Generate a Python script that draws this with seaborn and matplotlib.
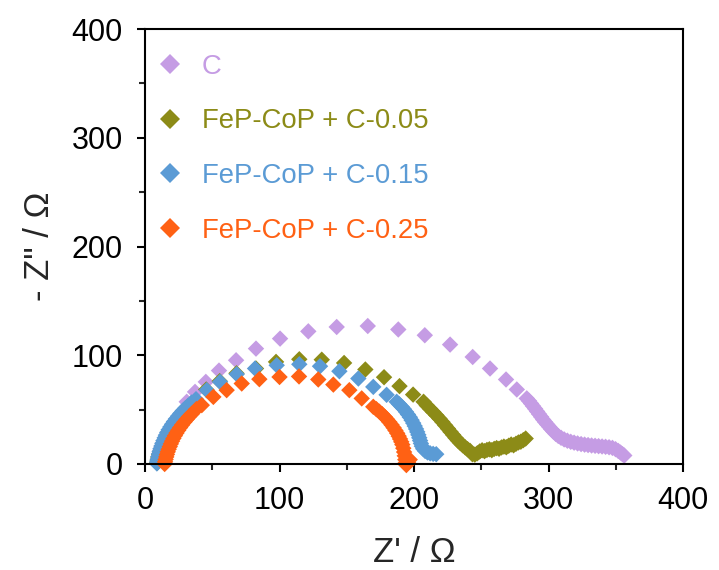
import numpy as np
import pandas as pd
import matplotlib
matplotlib.use("Agg")
import matplotlib.pyplot as plt
import seaborn as sns
from matplotlib.lines import Line2D
from matplotlib.ticker import MultipleLocator

# Nyquist data (Z' in ohm, -Z'' in ohm)
c_x = [9.3, 9.7, 10.2, 10.8, 11.5, 12.3, 13.2, 14.2, 15.3, 16.5, 17.8, 19.2, 20.7, 22.3, 24.0, 25.8, 27.7, 29.5,
       31.0, 37.2, 45.2, 55.0, 67.7, 82.5, 100.4, 121.4, 142.5, 165.6, 188.3, 208.0, 226.8, 243.6, 256.5, 268.4,
       276.4, 283.8,
       285.5, 287.0, 288.5, 290.0, 291.5, 293.0, 294.5, 296.0, 297.5, 299.0, 300.5, 302.0, 303.6, 305.3, 307.2,
       309.3, 311.6, 314.0, 316.5, 319.0, 321.6, 324.2, 326.8, 329.4, 332.0, 334.6, 337.2, 339.8, 342.4, 345.0,
       347.5, 349.8, 351.8, 353.5, 355.0, 356.3]
c_y = [1.5, 4.3, 7.1, 9.9, 12.7, 15.5, 18.3, 21.1, 23.9, 26.7, 29.5, 32.3, 35.1, 37.9, 40.7, 43.5, 46.5, 50.0,
       57.2, 66.3, 75.5, 85.9, 95.4, 106.1, 115.3, 122.0, 126.0, 126.9, 123.7, 118.4, 109.8, 98.4, 87.8, 77.7,
       68.5, 60.3,
       58.0, 55.6, 53.2, 50.8, 48.3, 45.8, 43.3, 40.8, 38.5, 36.3, 34.2, 32.0, 29.8, 27.7, 25.8,
       24.1, 22.6, 21.4, 20.4, 19.6, 18.9, 18.3, 17.8, 17.4, 17.0, 16.7, 16.4, 16.1, 15.8, 15.4,
       14.8, 13.6, 12.0, 10.5, 9.0, 7.8]

c05_x = [9.0, 9.4, 9.9, 10.5, 11.2, 12.0, 12.9, 13.9, 15.0, 16.2, 17.5, 18.9, 20.4, 22.0, 23.7, 25.5, 27.4,
         29.4, 31.6, 34.0, 37.0,
         45.5, 55.5, 68.0, 82.5, 97.4, 114.7, 131.4, 148.0, 163.8, 177.7, 189.2, 199.3, 207.1,
         209.5, 211.9, 214.3, 216.6, 218.9, 221.1, 223.2, 225.2, 227.1, 229.0, 230.8, 232.6, 234.4, 236.2, 238.0,
         239.8, 241.6, 243.4, 245.2, 247.0, 248.8, 250.6, 252.4, 254.2, 256.0, 257.8, 259.6, 261.4, 263.2, 265.0,
         266.8, 268.6, 270.4, 272.2, 274.0, 275.8, 277.6, 279.4, 281.2, 283.0]
c05_y = [1.0, 3.6, 6.2, 8.8, 11.4, 14.0, 16.6, 19.2, 21.8, 24.4, 27.0, 29.6, 32.2, 34.8, 37.4, 40.0, 42.6,
         45.2, 47.8, 50.6, 54.0,
         68.5, 76.2, 83.4, 87.8, 93.9, 96.3, 95.9, 92.9, 86.9, 79.8, 71.6, 63.8, 57.2,
         53.8, 50.8, 47.8, 44.8, 41.7, 38.6, 35.5, 32.5, 29.6, 26.8, 24.1, 21.6, 19.3, 17.2, 15.3,
         13.6, 12.1, 9.0, 8.6, 9.8, 11.5, 12.6, 11.8, 12.9, 13.5, 12.7, 13.9, 14.6, 14.0, 15.2,
         16.0, 15.4, 16.8, 17.9, 17.2, 18.6, 19.8, 20.5, 21.9, 23.4]

c15_x = [8.8, 9.1, 9.5, 9.9, 10.4, 10.9, 11.5, 12.2, 12.9, 13.7, 14.6, 15.5, 16.5, 17.6, 18.8, 20.1, 21.5,
         23.0, 24.6, 26.3, 28.1, 30.0, 32.0, 34.5, 37.9,
         45.9, 55.8, 68.2, 81.8, 97.9, 114.7, 130.1, 144.5, 158.6, 169.7, 179.6, 187.1,
         189.0, 190.8, 192.5, 194.0, 195.5, 196.9, 198.2, 199.4, 200.5, 201.5, 202.4, 203.2, 203.9, 204.5,
         205.1, 205.8, 206.8, 208.2, 210.0, 212.0, 214.2, 216.5]
c15_y = [0.5, 2.5, 4.5, 6.8, 9.2, 11.6, 14.0, 16.5, 19.0, 21.5, 24.0, 26.5, 29.0, 31.5, 34.0, 36.5, 39.0,
         41.5, 44.0, 46.5, 49.0, 51.3, 53.5, 56.5, 59.6,
         67.9, 75.5, 82.6, 87.8, 90.8, 91.7, 89.9, 85.3, 78.6, 70.9, 63.6, 57.2,
         55.0, 52.7, 50.4, 48.0, 45.5, 43.0, 40.3, 37.6, 34.9, 32.2, 29.5, 26.8, 24.1, 21.5,
         18.9, 16.4, 14.0, 12.0, 10.6, 9.8, 9.3, 9.0]

c25_x = [14.6, 14.9, 15.3, 15.8, 16.3, 16.9, 17.6, 18.4, 19.2, 20.1, 21.1, 22.2, 23.4, 24.7, 26.1, 27.6,
         29.2, 30.9, 32.7, 34.7, 38.2,
         42.2, 50.8, 60.7, 71.9, 85.0, 100.0, 114.5, 128.8, 140.0, 151.9, 161.1, 169.7,
         172.0, 174.2, 176.3, 178.2, 180.0, 181.7, 183.3, 184.8, 186.2, 187.5, 188.6, 189.6, 190.5, 191.3,
         192.0, 192.6, 193.1, 193.5, 193.8, 194.3, 195.5, 196.8]
c25_y = [0.0, 2.0, 4.2, 6.5, 8.8, 11.2, 13.6, 16.0, 18.5, 21.0, 23.5, 26.0, 28.5, 31.0, 33.5, 36.0,
         38.5, 41.0, 43.5, 46.0, 50.5,
         54.1, 61.7, 67.9, 74.0, 78.0, 80.0, 80.5, 77.7, 73.0, 67.9, 60.3, 52.6,
         50.4, 48.1, 45.8, 43.4, 41.0, 38.5, 36.0, 33.4, 30.8, 28.2, 25.6, 23.0, 20.4, 17.8,
         14.5, 11.0, 7.5, 4.0, 1.0, -1.0, 1.5, 4.0]

labels = ["C", "FeP-CoP + C-0.05", "FeP-CoP + C-0.15", "FeP-CoP + C-0.25"]
colors = ["#C59CE4", "#8C8B17", "#5B9BD5", "#FF6114"]

frames = []
for lab, xs, ys in zip(labels, [c_x, c05_x, c15_x, c25_x], [c_y, c05_y, c15_y, c25_y]):
    frames.append(pd.DataFrame({"Zre": xs, "Zim": ys, "sample": lab}))
df = pd.concat(frames, ignore_index=True)

sns.set_style("ticks")
plt.rcParams["font.family"] = ["Liberation Sans", "DejaVu Sans"]

fig = plt.figure(figsize=(7.19, 5.70), dpi=100)
ax = fig.add_axes([0.2017, 0.186, 0.7483, 0.763])

sns.scatterplot(data=df, x="Zre", y="Zim", hue="sample", hue_order=labels,
                palette=colors, marker="D", s=70, linewidth=0, legend=False, ax=ax)
for coll in ax.collections:
    coll.set_clip_on(False)

ax.set_xlim(0, 400)
ax.set_ylim(0, 400)
ax.xaxis.set_major_locator(MultipleLocator(100))
ax.yaxis.set_major_locator(MultipleLocator(100))
ax.xaxis.set_minor_locator(MultipleLocator(50))
ax.yaxis.set_minor_locator(MultipleLocator(50))
ax.tick_params(which="major", direction="out", length=6, width=1.5, labelsize=22, pad=10, colors="black")
ax.tick_params(which="minor", direction="out", length=4, width=1.5)
for sp in ax.spines.values():
    sp.set_linewidth(1.5)
    sp.set_color("black")
    sp.set_visible(True)

ax.set_xlabel("Z' / Ω", fontsize=25, labelpad=14)
ax.set_ylabel('- Z" / Ω', fontsize=25, labelpad=11)

handles = [Line2D([], [], marker="D", linestyle="none", color=c, markersize=10, markeredgewidth=0)
           for c in colors]
leg = ax.legend(handles, labels, loc="upper left", bbox_to_anchor=(0.020, 0.943), frameon=False,
                fontsize=19.8, handlelength=1.0, handletextpad=0.68, labelspacing=1.04,
                borderpad=0, borderaxespad=0)
for txt, c in zip(leg.get_texts(), colors):
    txt.set_color(c)

fig.savefig("out.png", dpi=100)
